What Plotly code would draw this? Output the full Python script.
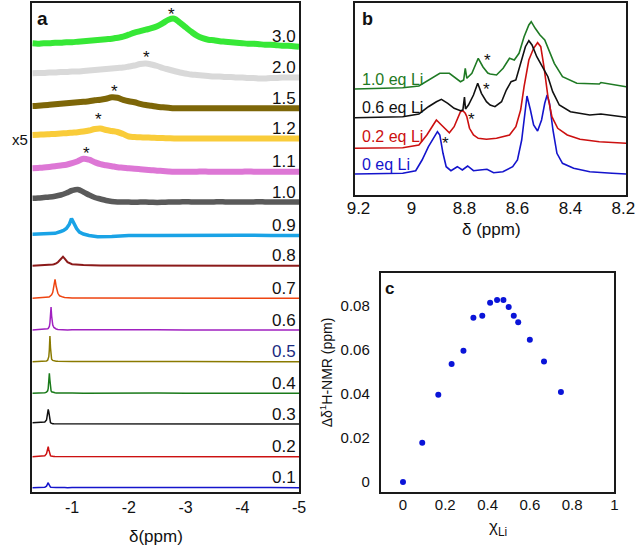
import plotly.graph_objects as go

W, H = 638, 547
def PX(x): return x / W
def PY(y): return 1 - y / H

# ---------------- Panel a data ----------------
a_labels = ["0.1", "0.2", "0.3", "0.4", "0.5", "0.6", "0.7", "0.8", "0.9", "1.0", "1.1", "1.2", "1.5", "2.0", "3.0"]

# narrow-peak traces (0.1 - 0.8) share this shift grid (ppm)
a_x_narrow = [-0.30, -0.40, -0.48, -0.52, -0.55, -0.57, -0.58, -0.59, -0.60, -0.61, -0.62, -0.63, -0.64,
              -0.66, -0.68, -0.70, -0.72, -0.75, -0.78, -0.81, -0.84, -0.87, -0.92, -1.0, -1.2, -1.5,
              -2.0, -2.5, -3.0, -3.5, -4.0, -4.5, -5.0]
a_01 = [0, 0.3, 0.2, 0.5, 1.5, 4.5, 5, 3.5, 1.8, 1, 0.6, 0.4, 0.3, 0.2, 0.2, 0.1, 0.1, 0.2, 0, 0.1, 0, 0.1, 0, 0.3, 0.1, 0.4, 0.2, 0.3, 0.1, 0.3, 0.2, 0.3, 0]
a_02 = [0, 0.3, 0.4, 1, 3, 8.5, 10, 7, 3.5, 1.8, 1, 0.6, 0.4, 0.3, 0.2, 0.1, 0.1, 0.1, 0, 0.1, 0, 0, 0, 0.2, 0, 0.2, 0.1, 0.2, 0, 0.2, 0.1, 0.2, 0]
a_03 = [1.2, 1.5, 1.3, 2, 4, 11, 14.7, 12, 6, 2.5, 1.3, 0.8, 0.5, 0.3, 0.2, 0.2, 0.1, 0.2, 0.1, 0.2, 0, 0.1, 0, 0.2, 0.3, 0.6, 0.3, 0.2, 0.1, 0.2, 0.1, 0.2, 0]
a_04 = [0, 0.2, 0.3, 0.6, 1.2, 2.5, 5, 11, 20, 13, 5, 2.5, 1.5, 0.9, 0.6, 0.5, 0.4, 0.3, 0.3, 0.2, 0.2, 0.1, 0.1, 0.2, 0.1, 0.3, 0.1, 0.3, 0.1, 0.2, 0.1, 0.2, 0]
a_05 = [0, 0.2, 0.2, 0.4, 0.8, 1.5, 2.5, 5, 12, 25.7, 14, 5, 2.5, 1.3, 0.8, 0.6, 0.5, 0.4, 0.3, 0.3, 0.2, 0.2, 0.1, 0.2, 0.1, 0.3, 0.2, 0.3, 0.1, 0.2, 0.1, 0.2, 0]
a_06 = [0, 0.2, 0.3, 0.4, 0.7, 1.2, 1.6, 2.2, 3.5, 7, 17, 23, 14, 5, 2.5, 1.5, 1, 0.6, 0.4, 0.3, 0.2, 0.2, 0.1, 0.2, 0.1, 0.2, 0.1, 0.2, 0.1, 0.2, 0.1, 0.2, 0]
a_07 = [0, 0.2, 0.3, 0.4, 0.6, 0.8, 1, 1.2, 1.5, 1.8, 2.2, 2.8, 3.5, 6, 14, 19, 12, 5, 2.5, 1.6, 1.2, 0.9, 0.6, 0.4, 0.2, 0.2, 0.1, 0.2, 0.1, 0.2, 0.1, 0.2, 0]
a_08 = [0, 0.2, 0.3, 0.3, 0.4, 0.5, 0.5, 0.6, 0.6, 0.7, 0.8, 0.9, 1.0, 1.2, 1.5, 1.8, 2.3, 3.5, 5.5, 8, 9, 7, 3.5, 1.5, 0.6, 0.3, 0.2, 0.3, 0.1, 0.2, 0.1, 0.2, 0]

a_x_09 = [-0.3, -0.5, -0.7, -0.8, -0.85, -0.9, -0.95, -0.99, -1.03, -1.08, -1.13, -1.2, -1.3, -1.45, -1.7, -2.0, -2.5, -3.0, -3.5, -4.0, -4.5, -5.0]
a_09 = [1.2, 1.5, 2.2, 4, 5, 7, 11, 17, 12, 7, 3.5, 1.5, 0, -1.2, -1, 0, 0, 0.3, 0, 0.3, 0, 0]

# broad traces (1.0 - 3.0) share a 0.1 ppm grid from -0.3 to -5.0
a_x_broad = [-0.3, -0.4, -0.5, -0.6, -0.7, -0.8, -0.9, -1.0, -1.1, -1.2, -1.3, -1.4, -1.5, -1.6, -1.7, -1.8,
             -1.9, -2.0, -2.1, -2.2, -2.3, -2.4, -2.5, -2.6, -2.7, -2.8, -2.9, -3.0, -3.1, -3.2, -3.3, -3.4,
             -3.5, -3.6, -3.7, -3.8, -3.9, -4.0, -4.1, -4.2, -4.3, -4.4, -4.5, -4.6, -4.7, -4.8, -4.9, -5.0]
a_10 = [3.7, 4, 4.5, 5, 5.8, 7, 9, 11.5, 12.5, 10, 7, 4.5, 3, 1.5, 0.5, 0, 0, 0, -0.3, 0, 0, -0.3, -0.5, -0.3, 0,
        0, 0, 0.3, 0, 0, 0, 0, 0, 0.3, 0, 0, 0, 0, 0, 0, 0.3, 0, 0, 0, 0, 0, 0, 0]
a_11 = [3.4, 3.8, 4.2, 4.8, 5.5, 6.2, 7, 8.5, 10.5, 13, 12, 9.5, 7.5, 6.5, 5.5, 4.5, 4, 3.4, 3, 2.5, 2, 1.5, 1,
        0.7, 0.3, 0, 0, 0, 0, 0, 0.3, 0, 0, 0, 0, 0, 0, 0, 0.3, 0, 0, 0, 0, 0, 0, 0, 0, 0]
a_12 = [3.5, 3.8, 4, 4.3, 4.6, 5, 5.3, 5.8, 6.3, 7, 8, 9.5, 10, 8.5, 7.5, 6.5, 4.5, 2, 1.5, 1.2, 1, 0.8, 0.6,
        0.4, 0.2, 0, 0, 0, 0, 0, 0, 0, 0, 0, 0, 0, 0, 0, 0, 0, 0, 0, 0, 0, 0, 0, 0, 0]
a_15 = [2.3, 2.6, 3, 3.5, 4, 4.5, 5, 5.5, 6, 6.5, 7, 8, 8.5, 9.5, 11, 10.5, 8.5, 7, 6, 4.5, 3.3, 2.5, 1.5, 1,
        0.5, 0, 0, 0, 0, 0, 0, 0, 0, 0, 0, 0, 0, 0, 0, 0, 0, 0, 0, 0, 0, 0, 0, 0]
a_20 = [4.2, 4.5, 4.5, 5, 5, 5.5, 5.5, 6, 6, 6.5, 7, 7.5, 8, 8.5, 9, 9.5, 10, 11, 12, 13.5, 14, 13, 11.5, 9.5,
        8, 6.5, 5, 4, 3, 2.5, 2, 1.5, 1, 1, 0.5, 0.5, 0, 0, -0.5, -0.5, -1, -1, -0.5, -0.5, 0, 0, 0, 0]
a_30 = [3.4, 3, 3.5, 3.5, 4, 4, 4.5, 4.5, 5, 5.5, 6, 6.5, 7, 7.5, 8, 9, 10, 12, 14, 15.5, 17, 18.5, 20.5, 23.5,
        27, 28, 24, 19.5, 15, 11, 8.5, 7, 6.5, 5.5, 5, 4.5, 4, 3.5, 3, 3, 2.5, 2, 2, 1.5, 1, 1, 0.5, 0]

a_offsets = [4.3, 35.3, 68, 98.7, 130.3, 162, 193.7, 226.3, 256.5, 290, 320.3, 353.5, 383.7, 414.5, 445.3]
a_colors = ["#1515cc", "#cc1111", "#111111", "#1a7a1a", "#8a7a00", "#a020c0", "#ee4411", "#8b1a1a",
            "#1aa3e6", "#5a5a5a", "#dd77d5", "#f9cc3a", "#7d6608", "#d9d9d9", "#36e836"]
a_widths = [1.5, 1.5, 1.5, 1.5, 1.5, 1.5, 1.5, 2, 3.5, 5.5, 6, 6, 6, 6, 6]

a_series_x = [a_x_narrow] * 8 + [a_x_09] + [a_x_broad] * 6
a_series_y = [a_01, a_02, a_03, a_04, a_05, a_06, a_07, a_08, a_09, a_10, a_11, a_12, a_15, a_20, a_30]

# asterisk positions in panel a (ppm)
a_star_ppm = [-1.256, -1.47, -1.747, -2.31, -2.76]

# ---------------- Panel b data ----------------
b_labels = ["0 eq Li", "0.2 eq Li", "0.6 eq Li", "1.0 eq Li"]
b_x_0 = [9.215, 9.033, 8.984, 8.96, 8.936, 8.912, 8.902, 8.893, 8.881, 8.869, 8.851, 8.827, 8.808, 8.788, 8.766,
         8.742, 8.715, 8.69, 8.655, 8.618, 8.60, 8.584, 8.572, 8.564, 8.551, 8.539, 8.524, 8.509, 8.497, 8.488,
         8.479, 8.466, 8.451, 8.43, 8.388, 8.327, 8.243, 8.19]
b_y_0 = [21, 21.7, 24.3, 35, 48.3, 58.3, 63.3, 60, 41.7, 28.3, 24.3, 28.3, 25, 29, 24.3, 25, 25.7, 22.3, 23.3,
         28.3, 35, 55, 85, 99, 85, 70, 64, 75, 91.7, 100, 91.7, 65, 41.7, 31.7, 26.7, 23.3, 21.7, 21]
b_x_02 = [9.215, 9.033, 8.972, 8.942, 8.918, 8.906, 8.887, 8.869, 8.857, 8.839, 8.827, 8.815, 8.806, 8.797, 8.791,
          8.781, 8.766, 8.748, 8.717, 8.679, 8.63, 8.606, 8.588, 8.575, 8.557, 8.539, 8.524, 8.512, 8.50, 8.485,
          8.47, 8.448, 8.412, 8.364, 8.291, 8.19]
b_y_02 = [46.7, 47.3, 50, 60, 70, 75, 70, 65, 62.3, 68.3, 76.7, 83.3, 84.3, 81.7, 78.3, 66.7, 60, 56.7, 55.7,
          56.7, 60, 68.3, 85, 108.3, 135, 146.7, 152.3, 148.3, 128.3, 98.3, 78.3, 66.7, 60, 55.7, 53.3, 51.7]
b_x_06 = [9.215, 9.033, 8.972, 8.936, 8.906, 8.887, 8.863, 8.839, 8.815, 8.806, 8.80, 8.796, 8.785, 8.766, 8.75,
          8.736, 8.717, 8.703, 8.685, 8.66, 8.642, 8.624, 8.606, 8.588, 8.57, 8.557, 8.545, 8.527, 8.503, 8.485,
          8.467, 8.442, 8.40, 8.327, 8.285, 8.19]
b_y_06 = [77.3, 78.3, 81, 88.3, 93.3, 95.7, 91.7, 86.7, 84.3, 85, 98, 86, 90, 100, 111.7, 101.7, 93.3, 90, 88.3,
          93.3, 105, 113.3, 115, 131.7, 148.3, 154.3, 150, 138.3, 126.7, 118.3, 103.3, 90, 83.3, 80, 81, 77.7]
b_x_10 = [9.215, 9.033, 8.972, 8.924, 8.893, 8.857, 8.839, 8.815, 8.803, 8.797, 8.791, 8.772, 8.748, 8.73, 8.712,
          8.703, 8.679, 8.654, 8.63, 8.612, 8.594, 8.575, 8.557, 8.548, 8.533, 8.515, 8.497, 8.479, 8.461, 8.43,
          8.376, 8.291, 8.285, 8.19]
b_y_10 = [106, 107.3, 109, 116.7, 121.7, 121.7, 118.3, 113.3, 115, 126.7, 116.7, 121.7, 136.7, 128, 122, 121, 120,
          126.7, 136.7, 135, 141.7, 158.3, 170, 173.3, 166.7, 160, 155, 143.3, 131.7, 118.3, 111.7, 111, 112.5,
          108.3]
b_colors = ["#1414cc", "#cc1010", "#111111", "#1f7a24"]
b_series_x = [b_x_0, b_x_02, b_x_06, b_x_10]
b_series_y = [b_y_0, b_y_02, b_y_06, b_y_10]

# ---------------- Panel c data ----------------
c_chi = [0, 0.091, 0.167, 0.23, 0.286, 0.333, 0.375, 0.412, 0.445, 0.475, 0.5, 0.524, 0.545, 0.6, 0.667, 0.747]
c_dd = [0, 0.0179, 0.0397, 0.0536, 0.0597, 0.0747, 0.0756, 0.0815, 0.0827, 0.0827, 0.0795, 0.0756, 0.0726,
        0.0647, 0.0548, 0.0409]

FONT = "Arial, Liberation Sans, sans-serif"
fig = go.Figure()

for i, (xs, ys, off, col, w) in enumerate(zip(a_series_x, a_series_y, a_offsets, a_colors, a_widths)):
    shape = "spline" if i >= 9 else "linear"
    fig.add_trace(go.Scatter(x=xs, y=[off + v for v in ys], mode="lines",
                             line=dict(color=col, width=w, shape=shape), xaxis="x", yaxis="y",
                             showlegend=False, hoverinfo="skip"))

for xs, ys, col in zip(b_series_x, b_series_y, b_colors):
    fig.add_trace(go.Scatter(x=xs, y=ys, mode="lines", line=dict(color=col, width=1.6),
                             xaxis="x2", yaxis="y2", showlegend=False, hoverinfo="skip"))

fig.add_trace(go.Scatter(x=c_chi, y=c_dd, mode="markers", marker=dict(color="#0a14d8", size=6),
                         xaxis="x3", yaxis="y3", showlegend=False, hoverinfo="skip"))

frame = dict(showline=True, mirror=True, linecolor="#1a1a1a", linewidth=2, showgrid=False, zeroline=False)

fig.update_layout(
    width=W, height=H, autosize=False, margin=dict(l=0, r=0, t=0, b=0, pad=0),
    paper_bgcolor="white", plot_bgcolor="white",
    font=dict(family=FONT, color="#111"),
    xaxis=dict(domain=[PX(25), PX(299)], range=[-0.3, -5.0], anchor="y",
               tickvals=[-1, -2, -3, -4, -5], ticktext=["-1", "-2", "-3", "-4", "-5"],
               ticks="", tickfont=dict(size=16), **frame),
    yaxis=dict(domain=[PY(492), PY(3)], range=[0, 489], anchor="x", showticklabels=False, ticks="", **frame),
    xaxis2=dict(domain=[PX(356), PX(635)], range=[9.215, 8.19], anchor="y2",
                tickvals=[9.2, 9.0, 8.8, 8.6, 8.4, 8.2], ticktext=["9.2", "9", "8.8", "8.6", "8.4", "8.2"],
                ticks="", ticklabelstandoff=-3, tickfont=dict(size=17), **frame),
    yaxis2=dict(domain=[PY(195), PY(3)], range=[0, 192], anchor="x2", showticklabels=False, ticks="", **frame),
    xaxis3=dict(domain=[PX(383), PX(623)], range=[-0.105, 1.0], anchor="y3",
                tickvals=[0, 0.2, 0.4, 0.6, 0.8, 1.0], ticktext=["0", "0.2", "0.4", "0.6", "0.8", "1"],
                ticks="", ticklabelstandoff=-2, tickfont=dict(size=15), **frame),
    yaxis3=dict(domain=[PY(492), PY(273)], range=[-0.0045, 0.095], anchor="x3",
                tickvals=[0, 0.02, 0.04, 0.06, 0.08], ticktext=["0", "0.02", "0.04", "0.06", "0.08"],
                ticks="outside", ticklen=6, tickcolor="rgba(0,0,0,0)", tickfont=dict(size=15), **frame),
)

ann = []
def A(x, y, text, size, color="#111", xanchor="center", bold=False, angle=0):
    t = "<b>%s</b>" % text if bold else text
    ann.append(dict(x=PX(x), y=PY(y), xref="paper", yref="paper", text=t, showarrow=False,
                    xanchor=xanchor, yanchor="middle", textangle=angle,
                    font=dict(family=FONT, size=size, color=color)))

# panel letters
A(35, 19, "a", 19, bold=True)
A(369, 19, "b", 18, bold=True)
A(392, 288, "c", 17, bold=True)

# panel a level labels
for lab, off in zip(a_labels, a_offsets):
    col = "#1a2a80" if lab == "0.5" else "#111"
    A(298, 492 - off - 10, lab, 17, color=col, xanchor="right")

# panel a asterisks
star_a_py = [149, 115.7, 87.3, 53.3, 10]
for ppm, yy in zip(a_star_ppm, star_a_py):
    ann.append(dict(x=ppm, y=PY(yy + 4), xref="x", yref="paper", text="*", showarrow=False,
                    yanchor="middle", font=dict(family=FONT, size=17, color="#111")))

A(12, 139, "x5", 15)
A(152, 536, "δ(ppm)", 17)

# panel b labels
b_label_py = [165, 137, 107, 80]
for lab, col, yy in zip(b_labels, b_colors, b_label_py):
    A(362, yy, lab, 16, color=col, xanchor="left")
for sx, sy in [(492.7, 56.7), (491.7, 85), (476.7, 115), (449.3, 139.3)]:
    A(sx, sy + 4, "*", 17)
A(497, 230, "δ (ppm)", 17)

# panel c titles
A(503, 528, "χ<sub>Li</sub>", 17)
A(327, 372, "Δδ<sup>1</sup>H-NMR (ppm)", 14, angle=-90)

fig.update_layout(annotations=ann)
fig.write_html("out.html", config={"responsive": False, "displayModeBar": False},
               post_script="document.body.style.margin='0';document.body.style.overflow='hidden';")
